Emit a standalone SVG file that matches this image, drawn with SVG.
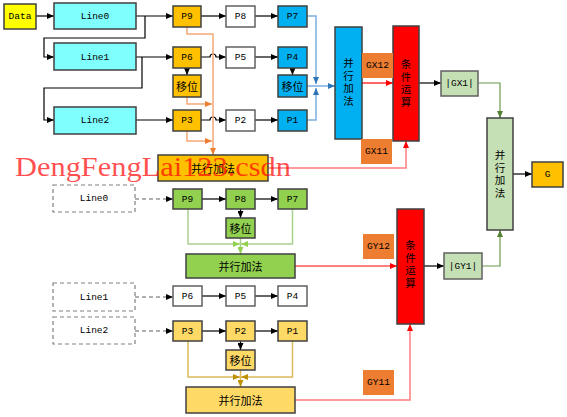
<svg xmlns="http://www.w3.org/2000/svg" width="567" height="417" viewBox="0 0 567 417">
<style>
.b{stroke:#404040;stroke-width:1.5}
.w{fill:#fff;stroke:#606060;stroke-width:1.5}
.d{fill:#fff;stroke:#808080;stroke-width:1.2;stroke-dasharray:4,3}
.t{font-family:"Liberation Mono",monospace;font-size:9.5px;fill:#000;text-anchor:middle;dominant-baseline:central}
.c{font-family:"Noto Sans CJK SC",sans-serif;font-size:11px;fill:#000;text-anchor:middle;dominant-baseline:central}
.v{font-family:"Noto Sans CJK SC",sans-serif;font-size:10.5px;fill:#000;text-anchor:middle;writing-mode:vertical-rl;letter-spacing:2px}
.k{fill:none;stroke:#000;stroke-width:1.2}
.bl{fill:none;stroke:#7BAFDF;stroke-width:1.5}
.or{fill:none;stroke:#F4A878;stroke-width:1.5}
.rd{fill:none;stroke:#FF0000;stroke-width:1.2}
.rl{fill:none;stroke:#FF7C80;stroke-width:1.5}
.gn{fill:none;stroke:#6A9A4A;stroke-width:1.2}
.lg{fill:none;stroke:#A9D18E;stroke-width:1.5}
.ye{fill:none;stroke:#D9B95A;stroke-width:1.5}
.gd{fill:none;stroke:#606060;stroke-width:1.2;stroke-dasharray:4,3}
</style>
<defs>
<marker id="ak" markerWidth="7" markerHeight="6" refX="7" refY="3" orient="auto" markerUnits="userSpaceOnUse"><path d="M0,0L7,3L0,6z" fill="#000"/></marker>
<marker id="ab" markerWidth="7" markerHeight="6" refX="7" refY="3" orient="auto" markerUnits="userSpaceOnUse"><path d="M0,0L7,3L0,6z" fill="#2E75B6"/></marker>
<marker id="ao" markerWidth="7" markerHeight="6" refX="7" refY="3" orient="auto" markerUnits="userSpaceOnUse"><path d="M0,0L7,3L0,6z" fill="#ED7D31"/></marker>
<marker id="ar" markerWidth="7" markerHeight="6" refX="7" refY="3" orient="auto" markerUnits="userSpaceOnUse"><path d="M0,0L7,3L0,6z" fill="#FF0000"/></marker>
<marker id="ag" markerWidth="7" markerHeight="6" refX="7" refY="3" orient="auto" markerUnits="userSpaceOnUse"><path d="M0,0L7,3L0,6z" fill="#548235"/></marker>
<marker id="al" markerWidth="7" markerHeight="6" refX="7" refY="3" orient="auto" markerUnits="userSpaceOnUse"><path d="M0,0L7,3L0,6z" fill="#92D050"/></marker>
<marker id="ay" markerWidth="7" markerHeight="6" refX="7" refY="3" orient="auto" markerUnits="userSpaceOnUse"><path d="M0,0L7,3L0,6z" fill="#BF9000"/></marker>
</defs>
<rect width="567" height="417" fill="#fff"/>
<g id="connectors">
<path class="k" d="M36,16H54" marker-end="url(#ak)"/>
<path class="k" d="M136,16H173" marker-end="url(#ak)"/>
<path class="k" d="M145,16V38H44V57H54" marker-end="url(#ak)"/>
<path class="k" d="M136,57H173" marker-end="url(#ak)"/>
<path class="k" d="M142,57V88H44V120H54" marker-end="url(#ak)"/>
<path class="k" d="M136,120H173" marker-end="url(#ak)"/>
<path class="k" d="M201,16H226" marker-end="url(#ak)"/>
<path class="k" d="M255,16H278" marker-end="url(#ak)"/>
<path class="k" d="M201,57H210a3,3 0 0 1 6,0H226" marker-end="url(#ak)"/>
<path class="k" d="M255,57H278" marker-end="url(#ak)"/>
<path class="k" d="M187,68V75" marker-end="url(#ak)"/>
<path class="k" d="M292.5,68V75" marker-end="url(#ak)"/>
<path class="k" d="M201,120H210a3,3 0 0 1 6,0H226" marker-end="url(#ak)"/>
<path class="k" d="M255,120H278" marker-end="url(#ak)"/>
<path class="bl" d="M307,16H316V84" marker-end="url(#ab)"/>
<path class="bl" d="M307,120H316V88" marker-end="url(#ab)"/>
<path class="bl" d="M307,86H335" marker-end="url(#ab)"/>
<path class="or" d="M187,27V34H213V155" marker-end="url(#ao)"/>
<path class="or" d="M187,97V104H212" marker-end="url(#ao)"/>
<path class="or" d="M187,131V141H212" marker-end="url(#ao)"/>
<path class="rl" d="M268,168H406V141" marker-end="url(#ar)"/>
<path class="rd" d="M362,83H393" marker-end="url(#ar)"/>
<path class="k" d="M419,83H441" marker-end="url(#ak)"/>
<path class="gn" d="M478,83H500V118" marker-end="url(#ag)"/>
<path class="gn" d="M482,266H500V230" marker-end="url(#ag)"/>
<path class="k" d="M513,174H532" marker-end="url(#ak)"/>
<path class="rd" d="M295,266H397" marker-end="url(#ar)"/>
<path class="k" d="M424,266H444" marker-end="url(#ak)"/>
<path class="rl" d="M295,400H410V324" marker-end="url(#ar)"/>
<path class="gd" d="M135,199H173" marker-end="url(#ak)"/>
<path class="k" d="M202,199H226" marker-end="url(#ak)"/>
<path class="k" d="M255,199H278" marker-end="url(#ak)"/>
<path class="k" d="M240.5,209V218" marker-end="url(#ak)"/>
<path class="lg" d="M188,209V244H240" marker-end="url(#al)"/>
<path class="lg" d="M292.5,209V244H241" marker-end="url(#al)"/>
<path class="lg" d="M240.5,238V254" marker-end="url(#al)"/>
<path class="gd" d="M135,297H173" marker-end="url(#ak)"/>
<path class="k" d="M202,296H226" marker-end="url(#ak)"/>
<path class="k" d="M255,296H278" marker-end="url(#ak)"/>
<path class="gd" d="M135,331H173" marker-end="url(#ak)"/>
<path class="k" d="M202,331H226" marker-end="url(#ak)"/>
<path class="k" d="M255,331H278" marker-end="url(#ak)"/>
<path class="k" d="M240.5,341V350" marker-end="url(#ak)"/>
<path class="ye" d="M188,341V377H240" marker-end="url(#ay)"/>
<path class="ye" d="M292.5,341V377H241" marker-end="url(#ay)"/>
<path class="ye" d="M240.5,370V387" marker-end="url(#ay)"/>
</g>
<g id="data"><rect class="b" x="4" y="4" width="32" height="25" fill="#FFFF00"/><text class="t" x="20" y="16.5">Data</text></g>
<g id="line0"><rect class="b" x="54" y="3" width="82" height="26" fill="#80FFFF"/><text class="t" x="95" y="16">Line0</text></g>
<g id="line1"><rect class="b" x="54" y="43" width="82" height="27" fill="#80FFFF"/><text class="t" x="95" y="57">Line1</text></g>
<g id="line2"><rect class="b" x="54" y="107" width="82" height="27" fill="#80FFFF"/><text class="t" x="95" y="120.5">Line2</text></g>
<g id="p9o"><rect class="b" x="173" y="6" width="28" height="21" fill="#FFC000"/><text class="t" x="187" y="16.5">P9</text></g>
<g id="p6o"><rect class="b" x="173" y="47" width="28" height="21" fill="#FFC000"/><text class="t" x="187" y="57.5">P6</text></g>
<g id="shift-o"><rect class="b" x="173" y="75" width="28" height="22" fill="#FFC000"/><text class="c" x="187" y="86">移位</text></g>
<g id="p3o"><rect class="b" x="173" y="110" width="28" height="21" fill="#FFC000"/><text class="t" x="187" y="120.5">P3</text></g>
<g id="p8w"><rect class="w" x="226" y="6" width="29" height="21"/><text class="t" x="240.5" y="16.5">P8</text></g>
<g id="p5w"><rect class="w" x="226" y="47" width="29" height="21"/><text class="t" x="240.5" y="57.5">P5</text></g>
<g id="p2w"><rect class="w" x="226" y="110" width="29" height="21"/><text class="t" x="240.5" y="120.5">P2</text></g>
<g id="p7b"><rect class="b" x="278" y="6" width="29" height="21" fill="#00B0F0"/><text class="t" x="292.5" y="16.5">P7</text></g>
<g id="p4b"><rect class="b" x="278" y="47" width="29" height="21" fill="#00B0F0"/><text class="t" x="292.5" y="57.5">P4</text></g>
<g id="shift-b"><rect class="b" x="278" y="75" width="29" height="22" fill="#00B0F0"/><text class="c" x="292.5" y="86">移位</text></g>
<g id="p1b"><rect class="b" x="278" y="110" width="29" height="21" fill="#00B0F0"/><text class="t" x="292.5" y="120.5">P1</text></g>
<g id="add-b"><rect class="b" x="335" y="27" width="27" height="112" fill="#00B0F0"/><text class="v" x="348.5" y="83">并行加法</text></g>
<g id="cond1"><rect class="b" x="393" y="26" width="26" height="115" fill="#FF0000"/><text class="v" x="406" y="84">条件运算</text></g>
<g id="gx12"><rect x="362" y="53" width="31" height="25" fill="#ED7D31"/><text class="t" x="377.5" y="65.5">GX12</text></g>
<g id="gx11"><rect x="361" y="139" width="31" height="25" fill="#ED7D31"/><text class="t" x="376.5" y="151.5">GX11</text></g>
<g id="gx1"><rect class="w" x="441" y="71" width="37" height="25" style="fill:#C5E0B4"/><text class="t" x="459.5" y="83.5">|GX1|</text></g>
<g id="add-g"><rect class="b" x="487" y="118" width="26" height="112" fill="#C5E0B4"/><text class="v" x="500" y="175">并行加法</text></g>
<g id="g"><rect class="b" x="532" y="162" width="31" height="25" fill="#FFC000"/><text class="t" x="547.5" y="174.5">G</text></g>
<g id="add-o"><rect class="b" x="158" y="155" width="110" height="26" fill="#FFC000"/><text class="c" x="213" y="168">并行加法</text></g>
<g id="line0d"><rect class="d" x="53" y="185" width="82" height="27"/><text class="t" x="94" y="198.5">Line0</text></g>
<g id="p9g"><rect class="b" x="173" y="189" width="29" height="20" fill="#92D050"/><text class="t" x="187.5" y="199">P9</text></g>
<g id="p8g"><rect class="b" x="226" y="189" width="29" height="20" fill="#92D050"/><text class="t" x="240.5" y="199">P8</text></g>
<g id="p7g"><rect class="b" x="278" y="189" width="29" height="20" fill="#92D050"/><text class="t" x="292.5" y="199">P7</text></g>
<g id="shift-g"><rect class="b" x="226" y="218" width="29" height="20" fill="#92D050"/><text class="c" x="240.5" y="228">移位</text></g>
<g id="add-lg"><rect class="b" x="186" y="254" width="109" height="24" fill="#92D050"/><text class="c" x="240.5" y="266">并行加法</text></g>
<g id="cond2"><rect class="b" x="397" y="209" width="27" height="115" fill="#FF0000"/><text class="v" x="410.5" y="265">条件运算</text></g>
<g id="gy12"><rect x="363" y="234" width="31" height="25" fill="#ED7D31"/><text class="t" x="378.5" y="246.5">GY12</text></g>
<g id="gy11"><rect x="363" y="370" width="31" height="25" fill="#ED7D31"/><text class="t" x="378.5" y="382.5">GY11</text></g>
<g id="gy1"><rect class="w" x="444" y="253" width="38" height="26" style="fill:#C5E0B4"/><text class="t" x="463" y="266">|GY1|</text></g>
<g id="line1d"><rect class="d" x="53" y="283" width="82" height="28"/><text class="t" x="94" y="297">Line1</text></g>
<g id="p6w"><rect class="w" x="173" y="286" width="29" height="20"/><text class="t" x="187.5" y="296">P6</text></g>
<g id="p5w2"><rect class="w" x="226" y="286" width="29" height="20"/><text class="t" x="240.5" y="296">P5</text></g>
<g id="p4w"><rect class="w" x="278" y="286" width="29" height="20"/><text class="t" x="292.5" y="296">P4</text></g>
<g id="line2d"><rect class="d" x="53" y="317" width="82" height="27"/><text class="t" x="94" y="330.5">Line2</text></g>
<g id="p3y"><rect class="b" x="173" y="321" width="29" height="20" fill="#FFD966"/><text class="t" x="187.5" y="331">P3</text></g>
<g id="p2y"><rect class="b" x="226" y="321" width="29" height="20" fill="#FFD966"/><text class="t" x="240.5" y="331">P2</text></g>
<g id="p1y"><rect class="b" x="278" y="321" width="29" height="20" fill="#FFD966"/><text class="t" x="292.5" y="331">P1</text></g>
<g id="shift-y"><rect class="b" x="226" y="350" width="29" height="20" fill="#FFD966"/><text class="c" x="240.5" y="360">移位</text></g>
<g id="add-y"><rect class="b" x="186" y="387" width="109" height="26" fill="#FFD966"/><text class="c" x="240.5" y="400">并行加法</text></g>
<text x="15" y="176" font-family="Liberation Serif,serif" font-size="28" fill="#FF0000" fill-opacity="0.7" textLength="276" lengthAdjust="spacingAndGlyphs">DengFengLai123.csdn</text>
</svg>
